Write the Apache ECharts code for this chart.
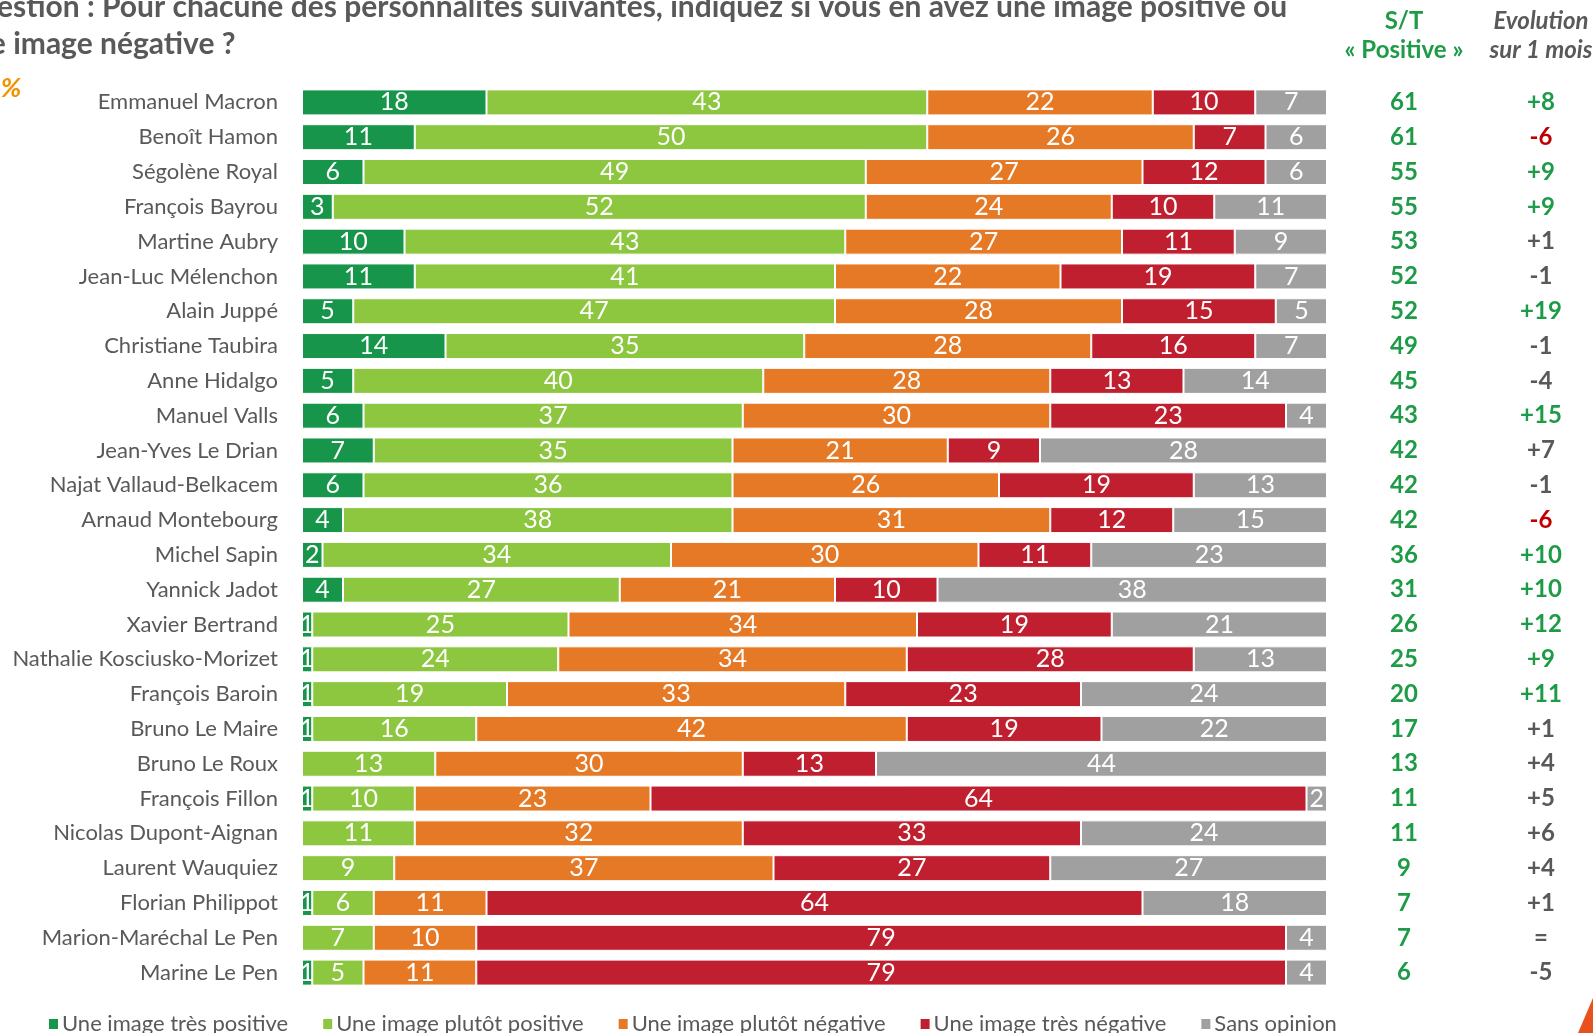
<!DOCTYPE html>
<html>
<head>
<meta charset="utf-8">
<script src="https://cdn.jsdelivr.net/npm/echarts@6/dist/echarts.min.js"></script>
<style>
  html, body { margin: 0; padding: 0; background: #fff; }
  #chart { width: 1593px; height: 1033px; }
</style>
</head>
<body>
<div id="chart"></div>
<script>
// personnalités, de haut en bas
const names = ['Emmanuel Macron', 'Benoît Hamon', 'Ségolène Royal', 'François Bayrou', 'Martine Aubry',
  'Jean-Luc Mélenchon', 'Alain Juppé', 'Christiane Taubira', 'Anne Hidalgo', 'Manuel Valls',
  'Jean-Yves Le Drian', 'Najat Vallaud-Belkacem', 'Arnaud Montebourg', 'Michel Sapin', 'Yannick Jadot',
  'Xavier Bertrand', 'Nathalie Kosciusko-Morizet', 'François Baroin', 'Bruno Le Maire', 'Bruno Le Roux',
  'François Fillon', 'Nicolas Dupont-Aignan', 'Laurent Wauquiez', 'Florian Philippot',
  'Marion-Maréchal Le Pen', 'Marine Le Pen'];

const tresPositive = [18, 11, 6, 3, 10, 11, 5, 14, 5, 6, 7, 6, 4, 2, 4, 1, 1, 1, 1, 0, 1, 0, 0, 1, 0, 1];
const plutotPositive = [43, 50, 49, 52, 43, 41, 47, 35, 40, 37, 35, 36, 38, 34, 27, 25, 24, 19, 16, 13, 10, 11, 9, 6, 7, 5];
const plutotNegative = [22, 26, 27, 24, 27, 22, 28, 28, 28, 30, 21, 26, 31, 30, 21, 34, 34, 33, 42, 30, 23, 32, 37, 11, 10, 11];
const tresNegative = [10, 7, 12, 10, 11, 19, 15, 16, 13, 23, 9, 19, 12, 11, 10, 19, 28, 23, 19, 13, 64, 33, 27, 64, 79, 79];
const sansOpinion = [7, 6, 6, 11, 9, 7, 5, 7, 14, 4, 28, 13, 15, 23, 38, 21, 13, 24, 22, 44, 2, 24, 27, 18, 4, 4];

const stPositive = [61, 61, 55, 55, 53, 52, 52, 49, 45, 43, 42, 42, 42, 36, 31, 26, 25, 20, 17, 13, 11, 11, 9, 7, 7, 6];
const evolution = ['+8', '-6', '+9', '+9', '+1', '-1', '+19', '-1', '-4', '+15', '+7', '-1', '-6', '+10', '+10',
  '+12', '+9', '+11', '+1', '+4', '+5', '+6', '+4', '+1', '=', '-5'];

const legendNames = ['Une image très positive', 'Une image plutôt positive', 'Une image plutôt négative',
  'Une image très négative', 'Sans opinion'];

const FONT = 'Lato';
const GREY = '#595959';
const GREEN = '#1E9B47';
const colors = ['#17954A', '#8DC63F', '#E67925', '#C01F30', '#A0A0A0'];

const chart = echarts.init(document.getElementById('chart'));

const seriesData = [tresPositive, plutotPositive, plutotNegative, tresNegative, sansOpinion];
const series = seriesData.map((d, i) => ({
  name: legendNames[i],
  type: 'bar',
  stack: 'total',
  barWidth: 26,
  data: d,
  itemStyle: { color: colors[i], borderColor: '#fff', borderWidth: 1 },
  label: {
    show: true,
    position: 'inside',
    color: '#fff',
    fontFamily: FONT,
    fontSize: 25,
    formatter: (p) => (p.value ? String(p.value) : ''),
  },
  emphasis: { disabled: true },
}));

// couleur de l'évolution : significative en hausse / en baisse
const evoKey = (s) => {
  const n = parseInt(s, 10);
  if (isNaN(n)) return 'n';
  if (n >= 8) return 'g';
  if (n <= -6) return 'r';
  return 'n';
};

const option = {
  animation: false,
  color: colors,
  grid: { left: 302, right: 266, top: 85, bottom: 43 },
  xAxis: { type: 'value', min: 0, max: 100, show: false },
  yAxis: [{
    type: 'category',
    data: names,
    inverse: true,
    axisLine: { show: false },
    axisTick: { show: false },
    axisLabel: { color: GREY, fontFamily: FONT, fontSize: 22, margin: 24 },
  }, {
    type: 'category',
    data: names,
    inverse: true,
    position: 'right',
    axisLine: { show: false },
    axisTick: { show: false },
    axisLabel: {
      align: 'center',
      margin: 77,
      color: GREEN,
      fontFamily: FONT,
      fontWeight: 'bold',
      fontSize: 24,
      formatter: (v, i) => String(stPositive[i]),
    },
  }, {
    type: 'category',
    data: names,
    inverse: true,
    position: 'right',
    axisLine: { show: false },
    axisTick: { show: false },
    axisLabel: {
      align: 'center',
      margin: 214,
      fontFamily: FONT,
      fontWeight: 'bold',
      fontSize: 24,
      formatter: (v, i) => `{${evoKey(evolution[i])}|${evolution[i]}}`,
      rich: {
        g: { color: GREEN, fontFamily: FONT, fontWeight: 'bold', fontSize: 24 },
        r: { color: '#C00000', fontFamily: FONT, fontWeight: 'bold', fontSize: 24 },
        n: { color: GREY, fontFamily: FONT, fontWeight: 'bold', fontSize: 24 },
      },
    },
  }],
  legend: {
    data: legendNames,
    left: 42,
    top: 1008,
    icon: 'rect',
    itemWidth: 11,
    itemHeight: 12,
    itemGap: 33,
    textStyle: { color: GREY, fontFamily: FONT, fontSize: 22, padding: [0, 0, 0, -2] },
    selectedMode: false,
  },
  graphic: [
    {
      type: 'text', left: -44, top: -8,
      style: {
        text: 'Question : Pour chacune des personnalités suivantes, indiquez si vous en avez une image positive ou',
        fill: GREY, font: `bold 30px ${FONT}`,
      },
    },
    {
      type: 'text', left: -44, top: 29,
      style: { text: 'une image négative ?', fill: GREY, font: `bold 30px ${FONT}` },
    },
    {
      type: 'text', left: -34, top: 75,
      style: { text: 'En %', fill: '#F39200', font: `italic bold 27px ${FONT}` },
    },
    {
      type: 'text', x: 1404, y: 21,
      style: { text: 'S/T', fill: GREEN, font: `bold 24px ${FONT}`, align: 'center', verticalAlign: 'middle' },
    },
    {
      type: 'text', x: 1404, y: 50,
      style: { text: '« Positive »', fill: GREEN, font: `bold 24px ${FONT}`, align: 'center', verticalAlign: 'middle' },
    },
    {
      type: 'text', x: 1541, y: 21,
      style: { text: 'Evolution', fill: GREY, font: `italic bold 24px ${FONT}`, align: 'center', verticalAlign: 'middle' },
    },
    {
      type: 'text', x: 1541, y: 50,
      style: { text: 'sur 1 mois', fill: GREY, font: `italic bold 24px ${FONT}`, align: 'center', verticalAlign: 'middle' },
    },
    {
      type: 'polygon',
      shape: { points: [[1593, 998], [1593, 1033], [1578, 1033]] },
      style: { fill: '#E8501C' },
    },
  ],
  series,
};

chart.setOption(option);
</script>
</body>
</html>
